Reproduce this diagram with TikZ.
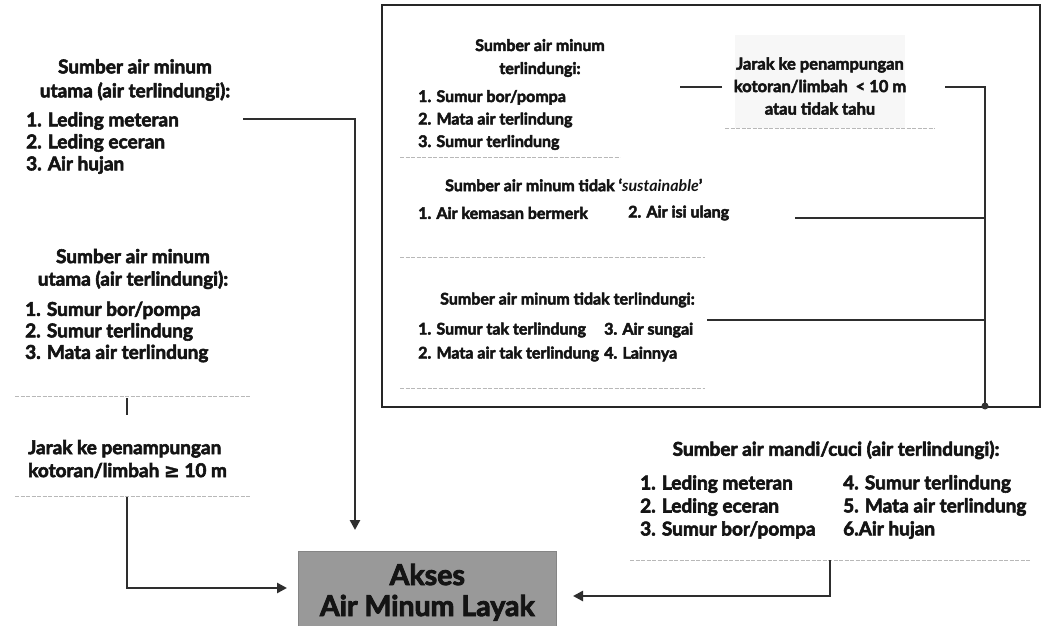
\documentclass[tikz,border=0pt]{standalone}
\usepackage{fontspec}
\setmainfont{Lato}[BoldFeatures={FakeBold=3}]
\newfontfamily\symfont{DejaVu Sans}[FakeBold=1.5]
\usetikzlibrary{arrows.meta}
\begin{document}
\begin{tikzpicture}[x=1pt,y=-1pt,
  txt/.style={font=\fontsize{19}{23}\selectfont\bfseries, text=black!92, inner sep=0pt},
  tr/.style={font=\fontsize{16}{23}\selectfont\bfseries},
  br/.style={font=\fontsize{19}{23}\selectfont\bfseries},
  ttl/.style={txt, align=center},
  lst/.style={txt, align=left, anchor=west},
  conn/.style={line width=2.6pt, draw=black!82},
  arr/.style={conn, -{Triangle[length=10pt,width=10pt]}},
  faint/.style={draw=black!28, line width=0.8pt, dash pattern=on 4pt off 1.5pt},
  bigbox/.style={draw=black!85, line width=2.4pt},
  goal/.style={fill=black!40, draw=black!48, line width=0.6pt, minimum width=258pt, minimum height=82pt,
    font=\fontsize{28.5}{31}\selectfont\bfseries, align=center, text=black!92, inner sep=0pt}]
\useasboundingbox (0,0) rectangle (1042,626);
\fill[white] (0,0) rectangle (1042,626);

% ---------- left column ----------
\node[ttl, font=\fontsize{19}{24}\selectfont\bfseries] (l1t) at (135,80) {Sumber air minum\\utama (air terlindungi):};
\node[lst, font=\fontsize{19}{22}\selectfont\bfseries] (l1l) at (26,143) {1. Leding meteran\\2. Leding eceran\\3. Air hujan};
\node[ttl, font=\fontsize{19}{22.5}\selectfont\bfseries] (l2t) at (133,269) {Sumber air minum\\utama (air terlindungi):};
\node[lst, font=\fontsize{19}{21.5}\selectfont\bfseries] (l2l) at (25,332) {1. Sumur bor/pompa\\2. Sumur terlindung\\3. Mata air terlindung};
\node[lst] (l3) at (28,459) {Jarak ke penampungan\\kotoran/limbah {\symfont ≥} 10 m};

\draw[faint] (15,396) -- (250,396);
\draw[faint] (15,496) -- (250,496);

% ---------- top right box ----------
\draw[bigbox] (382,5) rectangle (1040,407);
\node[ttl, tr] (r1t) at (540,58) {Sumber air minum\\terlindungi:};
\node[lst, font=\fontsize{16}{22.5}\selectfont\bfseries] (r1l) at (418,120) {1. Sumur bor/pompa\\2. Mata air terlindung\\3. Sumur terlindung};
\draw[faint] (400,157) -- (620,157);

\fill[black!3] (735,35) rectangle (905,128);
\node[ttl, font=\fontsize{16.5}{22.5}\selectfont\bfseries] (rj) at (820,86) {Jarak ke penampungan\\kotoran/limbah\ \ < 10 m\\atau tidak tahu};
\draw[faint] (725,128) -- (935,128);

\node[lst, tr] (r2t) at (445,185) {Sumber air minum tidak `\textit{sustainable}'};
\node[lst, tr] (r2a) at (418,213) {1. Air kemasan bermerk};
\node[lst, tr] (r2b) at (628,213) {2. Air isi ulang};
\draw[faint] (400,257) -- (705,257);

\node[lst, tr] (r3t) at (440,300) {Sumber air minum tidak terlindungi:};
\node[lst, font=\fontsize{16}{24}\selectfont\bfseries] (r3a) at (418,342) {1. Sumur tak terlindung\\2. Mata air tak terlindung};
\node[lst, font=\fontsize{16}{24}\selectfont\bfseries] (r3b) at (604,342) {3. Air sungai\\4. Lainnya};
\draw[faint] (400,388) -- (705,388);

% ---------- bottom right ----------
\node[ttl, br] (b1t) at (836,450) {Sumber air mandi/cuci (air terlindungi):};
\node[lst, br] (b1a) at (640,507) {1. Leding meteran\\2. Leding eceran\\3. Sumur bor/pompa};
\node[lst, br] (b1b) at (843,507) {4. Sumur terlindung\\5. Mata air terlindung\\6.Air hujan};
\draw[faint] (630,560) -- (1030,560);

% ---------- goal ----------
\node[goal, anchor=north west] (akses) at (298,551) {Akses\\Air Minum Layak};

% ---------- connectors ----------
\coordinate (c1s) at (243,119);
\coordinate (c1e) at (355,530);
\draw[arr] (c1s) -| (c1e);

\coordinate (c2s) at (127,398);
\coordinate (c2e) at (127,415);
\draw[conn, line width=2pt] (c2s) -- (c2e);

\coordinate (c3s) at (127,497);
\coordinate (c3e) at (287,588);
\draw[arr] (c3s) |- (c3e);

\coordinate (c4s) at (830,560);
\coordinate (c4e) at (573,596);
\draw[arr] (c4s) |- (c4e);

\coordinate (c5s) at (722,87);
\coordinate (c5e) at (680,87);
\draw[conn] (c5s) -- (c5e);

\coordinate (c6s) at (945,87);
\coordinate (c6e) at (985,406);
\draw[conn] (c6s) -| (c6e);
\fill[black!80] (c6e) circle (3.5pt);

\coordinate (c7s) at (795,218);
\coordinate (c7e) at (985,218);
\draw[conn] (c7s) -- (c7e);

\coordinate (c8s) at (707,320);
\coordinate (c8e) at (985,320);
\draw[conn] (c8s) -- (c8e);
\end{tikzpicture}
\end{document}
